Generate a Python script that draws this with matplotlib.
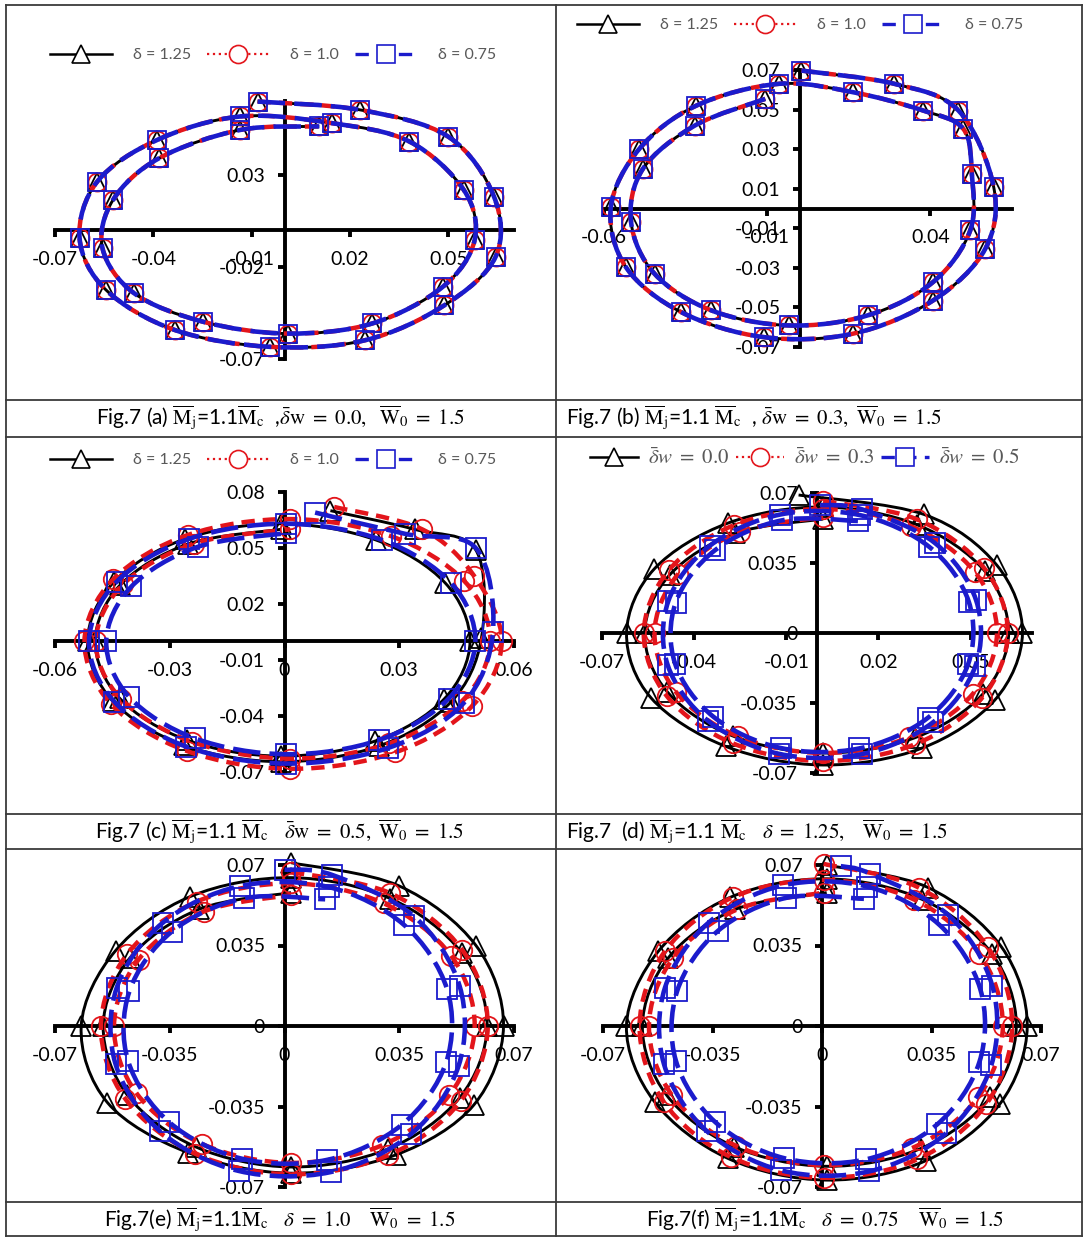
"""Fig.7 phase-plane orbits, six panels in a captioned table grid."""

import matplotlib

matplotlib.use("Agg")
import matplotlib.pyplot as plt  # noqa: E402
import numpy as np  # noqa: E402
from matplotlib.lines import Line2D  # noqa: E402
from matplotlib.patches import PathPatch  # noqa: E402
from matplotlib.path import Path  # noqa: E402
from matplotlib.ticker import FuncFormatter  # noqa: E402

W, H = 1084, 1237
BLACK, RED, BLUE, GREY, RULE = "#000000", "#e3151b", "#1b1bcc", "#595959", "#3a3a3a"
plt.rcParams.update({
    "font.family": ["Lato", "DejaVu Sans"],
    "mathtext.fontset": "stix",
    "axes.unicode_minus": False,
})

# ---- data (x, dx/dt), one spiral per series -------------------------------
# (a) dw = 0.0 : the three delta curves lie on top of each other
A_X = [-0.0082, 0.0230, 0.0499, 0.0639, 0.0644, 0.0488, 0.0246, -0.0044, -0.0334, -0.0544,
       -0.0625, -0.0571, -0.0388, -0.0135, 0.0144, 0.0381, 0.0547, 0.0580, 0.0483, 0.0268,
       0.0010, -0.0248, -0.0458, -0.0555, -0.0523, -0.0383, -0.0135, 0.0106]
A_Y = [0.0697, 0.0652, 0.0507, 0.0181, -0.0145, -0.0408, -0.0598, -0.0634, -0.0543, -0.0326,
       -0.0045, 0.0263, 0.0489, 0.0616, 0.0580, 0.0480, 0.0217, -0.0054, -0.0308, -0.0507,
       -0.0562, -0.0498, -0.0344, -0.0100, 0.0163, 0.0389, 0.0543, 0.0562]
# (b) dw = 0.3 : same again
B_X = [0.0005, 0.0290, 0.0486, 0.0594, 0.0568, 0.0408, 0.0162, -0.0111, -0.0363, -0.0533,
       -0.0579, -0.0492, -0.0317, -0.0065, 0.0162, 0.0378, 0.0501, 0.0527, 0.0522, 0.0408,
       0.0208, -0.0034, -0.0271, -0.0445, -0.0517, -0.0481, -0.0322, -0.0106]
B_Y = [0.0697, 0.0630, 0.0495, 0.0108, -0.0204, -0.0465, -0.0633, -0.0650, -0.0524, -0.0296,
       0.0007, 0.0301, 0.0520, 0.0630, 0.0588, 0.0495, 0.0402, 0.0175, -0.0111, -0.0372,
       -0.0540, -0.0591, -0.0515, -0.0330, -0.0069, 0.0200, 0.0419, 0.0554]
# (c) dw = 0.5 : delta = 1.25 / 1.0 / 0.75
C_X_125 = [0.012, 0.034, 0.050, 0.0515, 0.0435, 0.0246, -0.001, -0.0264, -0.0449, -0.0515,
           -0.0446, -0.0261, -0.001, 0.0239, 0.0420, 0.0485, 0.0417, 0.0236, -0.001, -0.0254,
           -0.0431, -0.0495, -0.0429, -0.0251, -0.001]
C_Y_125 = [0.070, 0.060, 0.049, 0.002, -0.0325, -0.0561, -0.0645, -0.0556, -0.032, 0.0,
           0.0318, 0.0548, 0.063, 0.0543, 0.0313, 0.0, -0.031, -0.0535, -0.0615, -0.053,
           -0.0305, 0.0, 0.0303, 0.0522, 0.060]
C_X_100 = [0.013, 0.036, 0.0496, 0.0568, 0.0491, 0.0289, 0.0015, -0.0256, -0.0453, -0.0523,
           -0.0448, -0.0251, 0.0015, 0.0279, 0.0470, 0.0538, 0.0465, 0.0274, 0.0015, -0.0241,
           -0.0427, -0.0493, -0.0422, -0.0236, 0.0015]
C_Y_100 = [0.072, 0.060, 0.0350, 0.0, -0.0346, -0.0595, -0.0683, -0.0587, -0.0337, 0.0,
           0.0332, 0.0571, 0.0655, 0.0563, 0.0323, 0.0, -0.0318, -0.0547, -0.0628, -0.0539,
           -0.0309, 0.0, 0.0305, 0.0524, 0.060]
C_X_075 = [0.008, 0.0315, 0.050, 0.0545, 0.0468, 0.0271, 0.0005, -0.0257, -0.0445, -0.0511,
           -0.0439, -0.0249, 0.0005, 0.0256, 0.0436, 0.0499, 0.0429, 0.0248, 0.0005, -0.0234,
           -0.0406, -0.0466, -0.0400, -0.0227, 0.0005]
C_Y_075 = [0.069, 0.0576, 0.050, 0.005, -0.0332, -0.0571, -0.0655, -0.0564, -0.0323, 0.0,
           0.0319, 0.0549, 0.063, 0.0542, 0.0311, 0.0, -0.0307, -0.0528, -0.0605, -0.0520,
           -0.0298, 0.0, 0.0294, 0.0506, 0.058]
# (d) delta = 1.25 : dw = 0.0 / 0.3 / 0.5
D_X_00 = [-0.006, 0.0348, 0.0585, 0.0669, 0.0579, 0.0341, 0.002, -0.0297, -0.054, -0.062,
          -0.053, -0.0289, 0.002, 0.0326, 0.0546, 0.0624, 0.0540, 0.0318, 0.002, -0.0274,
          -0.0487, -0.0561, -0.0480, -0.0267, 0.002]
D_Y_00 = [0.069, 0.0593, 0.034, 0.0, -0.0335, -0.0576, -0.066, -0.0567, -0.0325, 0.0,
          0.032, 0.055, 0.063, 0.0541, 0.031, 0.0, -0.0305, -0.0524, -0.060, -0.0515,
          -0.0295, 0.0, 0.029, 0.0498, 0.057]
D_X_03 = [0.002, 0.0324, 0.0543, 0.0621, 0.0538, 0.0318, 0.002, -0.0275, -0.0488, -0.0564,
          -0.0483, -0.0269, 0.002, 0.0306, 0.0513, 0.0586, 0.0508, 0.0300, 0.002, -0.0257,
          -0.0458, -0.0529, -0.0453, -0.0252, 0.002]
D_Y_03 = [0.066, 0.0569, 0.0327, 0.0, -0.0323, -0.0557, -0.064, -0.0551, -0.0317, 0.0,
          0.0313, 0.054, 0.062, 0.0534, 0.0307, 0.0, -0.0303, -0.0522, -0.060, -0.0517,
          -0.0297, 0.0, 0.0293, 0.0505, 0.058]
D_X_05 = [0.001, 0.0147, 0.0383, 0.0518, 0.0516, 0.0379, 0.0145, -0.0124, -0.0354, -0.0486,
          -0.0484, -0.035, -0.0121, 0.0141, 0.0366, 0.0494, 0.0492, 0.0361, 0.0138, -0.0118,
          -0.0337, -0.0462, -0.046, -0.0332, -0.0115, 0.0134]
D_Y_05 = [0.064, 0.0618, 0.0451, 0.0164, -0.0164, -0.0445, -0.0606, -0.0604, -0.044, -0.0161,
          0.016, 0.0435, 0.0592, 0.0589, 0.043, 0.0157, -0.0156, -0.0424, -0.0577, -0.0575,
          -0.0419, -0.0153, 0.0152, 0.0414, 0.0563, 0.056]
# (e) delta = 1.0 : dw = 0.0 / 0.3 / 0.5
E_X_00 = [0.002, 0.0348, 0.0584, 0.0668, 0.0577, 0.0340, 0.002, -0.0295, -0.054, -0.062,
          -0.0515, -0.0287, 0.002, 0.0323, 0.0541, 0.0618, 0.0534, 0.0315, 0.002, -0.0270,
          -0.0479, -0.0553, -0.0472, -0.0262, 0.002]
E_Y_00 = [0.071, 0.0610, 0.035, 0.0, -0.0344, -0.056, -0.064, -0.055, -0.0333, 0.0,
          0.0328, 0.0563, 0.0645, 0.0554, 0.0317, 0.0, -0.0312, -0.0535, -0.0613, -0.0526,
          -0.0301, 0.0, 0.0295, 0.0507, 0.058]
E_X_03 = [0.002, 0.0323, 0.0542, 0.062, 0.0537, 0.0317, 0.002, -0.0273, -0.0485, -0.056,
          -0.0479, -0.0267, 0.002, 0.0303, 0.0508, 0.058, 0.0502, 0.0297, 0.002, -0.0253,
          -0.0451, -0.052, -0.0445, -0.0247, 0.002]
E_Y_03 = [0.067, 0.0577, 0.0331, 0.0, -0.0327, -0.0562, -0.0645, -0.0555, -0.0318, 0.0,
          0.0314, 0.0541, 0.062, 0.0533, 0.0306, 0.0, -0.0302, -0.0519, -0.0595, -0.0512,
          -0.0293, 0.0, 0.0289, 0.0497, 0.057]
E_X_05 = [0.0, 0.0145, 0.0394, 0.0534, 0.0531, 0.0387, 0.0141, -0.014, -0.0379, -0.0515,
          -0.0512, -0.0372, -0.0136, 0.0135, 0.0365, 0.0496, 0.0493, 0.0358, 0.013, -0.013,
          -0.0351, -0.0477, -0.0473, -0.0344, -0.0125, 0.0124]
E_Y_05 = [0.068, 0.0657, 0.0478, 0.0174, -0.0173, -0.0468, -0.0635, -0.063, -0.0458, -0.0167,
          0.0165, 0.0448, 0.0608, 0.0604, 0.0439, 0.0159, -0.0158, -0.0429, -0.0582, -0.0577,
          -0.0419, -0.0152, 0.0151, 0.041, 0.0555, 0.0551]
# (f) delta = 0.75 : dw = 0.0 / 0.3 / 0.5
F_X_00 = [0.0015, 0.0339, 0.0573, 0.0656, 0.0568, 0.0333, 0.0015, -0.030, -0.0535, -0.0625,
          -0.0523, -0.0294, 0.0015, 0.0321, 0.0543, 0.0621, 0.0538, 0.0315, 0.0015, -0.0282,
          -0.0497, -0.0574, -0.0492, -0.0277, 0.0015]
F_Y_00 = [0.070, 0.0602, 0.0345, 0.0, -0.034, -0.0585, -0.067, -0.0576, -0.033, 0.0,
          0.0325, 0.0559, 0.064, 0.055, 0.0315, 0.0, -0.031, -0.0533, -0.061, -0.0524,
          -0.030, 0.0, 0.0295, 0.0507, 0.058]
F_X_03 = [0.0005, 0.0309, 0.0529, 0.0608, 0.0525, 0.0304, 0.0005, -0.0291, -0.0506, -0.0583,
          -0.0502, -0.0286, 0.0005, 0.0294, 0.0503, 0.0578, 0.0499, 0.0289, 0.0005, -0.0276,
          -0.048, -0.0553, -0.0476, -0.0271, 0.0005]
F_Y_03 = [0.0705, 0.0602, 0.0345, 0.0, -0.034, -0.058, -0.066, -0.057, -0.033, 0.0,
          0.0325, 0.0559, 0.0635, 0.055, 0.0315, 0.0, -0.031, -0.053, -0.0605, -0.052,
          -0.030, 0.0, 0.0295, 0.0507, 0.058]
F_X_05 = [0.006, 0.0155, 0.0404, 0.0544, 0.0541, 0.0397, 0.0151, -0.013, -0.0369, -0.0505,
          -0.0502, -0.0362, -0.0126, 0.0145, 0.0375, 0.0506, 0.0503, 0.0368, 0.014, -0.012,
          -0.0341, -0.0467, -0.0463, -0.0334, -0.0115, 0.0134]
F_Y_05 = [0.0695, 0.0662, 0.0482, 0.0176, -0.0171, -0.0466, -0.0632, -0.0628, -0.0456, -0.0166,
          0.0166, 0.045, 0.0611, 0.0606, 0.044, 0.016, -0.0157, -0.0428, -0.058, -0.0575,
          -0.0418, -0.0151, 0.0152, 0.0412, 0.0557, 0.0553]

XT_A = [-0.07, -0.04, -0.01, 0.02, 0.05]
YT_A = [-0.07, -0.02, 0.03]
XT_B = [-0.06, -0.01, 0.04]
YT_B = [-0.07, -0.05, -0.03, -0.01, 0.01, 0.03, 0.05, 0.07]
XT_C = [-0.06, -0.03, 0, 0.03, 0.06]
YT_C = [-0.07, -0.04, -0.01, 0.02, 0.05, 0.08]
XT_D = [-0.07, -0.04, -0.01, 0.02, 0.05]
XT_EF = [-0.07, -0.035, 0, 0.035, 0.07]
YT_DEF = [-0.07, -0.035, 0, 0.035, 0.07]

LEG_DELTA = ["δ = 1.25", "δ = 1.0", "δ = 0.75"]
LEG_DW = [r"$\bar{\delta}w\ =\ 0.0$", r"$\bar{\delta}w\ =\ 0.3$", r"$\bar{\delta}w\ =\ 0.5$"]

MJ = r"$\overline{\mathrm{M}}_\mathrm{j}$"
MC = r"$\overline{\mathrm{M}}_\mathrm{c}$"
W0 = r"\overline{\mathrm{W}}_0\ =\ 1.5"
CAPTIONS = [
    "Fig.7 (a) " + MJ + "=1.1" + MC + "  ," + r"$\bar{\delta}\mathrm{w}\ =\ 0.0,\ \ " + W0 + "$",
    "Fig.7 (b) " + MJ + "=1.1 " + MC + "  , " + r"$\bar{\delta}\mathrm{w}\ =\ 0.3,\ " + W0 + "$",
    "Fig.7 (c) " + MJ + "=1.1 " + MC + "   " + r"$\bar{\delta}\mathrm{w}\ =\ 0.5,\ " + W0 + "$",
    "Fig.7  (d) " + MJ + "=1.1 " + MC + "   " + r"$\delta\ =\ 1.25,\ \ \ " + W0 + "$",
    "Fig.7(e) " + MJ + "=1.1" + MC + "   " + r"$\delta\ =\ 1.0\ \ \ \ " + W0 + "$",
    "Fig.7(f) " + MJ + "=1.1" + MC + "   " + r"$\delta\ =\ 0.75\ \ \ \ " + W0 + "$",
]

STYLES = {
    "tri": dict(color=BLACK, lw=2.1, ls="-", marker="^", z=3),
    "circ": dict(color=RED, lw=3.2, ls=(0, (3, 1.8)), marker="o", z=4),
    "sq": dict(color=BLUE, lw=3.3, ls=(0, (6, 2)), marker="s", z=5),
}

# layout in reference pixels: axis extents (x-left, x-right, y-top, y-bottom)
PANELS = [
    dict(series=[(A_X, A_Y, "tri"), (A_X, A_Y, "circ"), (A_X, A_Y, "sq")],
         box=(55, 514, 101, 359), xlim=(-0.07, 0.07), ylim=(-0.07, 0.07), xt=XT_A, yt=YT_A, ms=13,
         legend=(LEG_DELTA, 273, 55), cap=(280, 418, "center")),
    dict(series=[(B_X, B_Y, "tri"), (B_X, B_Y, "circ"), (B_X, B_Y, "sq")],
         box=(604, 1012, 70, 347), xlim=(-0.06, 0.065), ylim=(-0.07, 0.07), xt=XT_B, yt=YT_B, ms=13,
         legend=(LEG_DELTA, 800, 25), cap=(566, 418, "left")),
    dict(series=[(C_X_125, C_Y_125, "tri"), (C_X_100, C_Y_100, "circ"), (C_X_075, C_Y_075, "sq")],
         box=(55, 514, 492, 772), xlim=(-0.06, 0.06), ylim=(-0.07, 0.08), xt=XT_C, yt=YT_C, ms=14,
         legend=(LEG_DELTA, 273, 460), cap=(280, 832, "center")),
    dict(series=[(D_X_00, D_Y_00, "tri"), (D_X_03, D_Y_03, "circ"), (D_X_05, D_Y_05, "sq")],
         box=(602, 1032, 493, 773), xlim=(-0.07, 0.07), ylim=(-0.07, 0.07), xt=XT_D, yt=YT_DEF, ms=14,
         legend=(LEG_DW, 805, 458), cap=(566, 832, "left")),
    dict(series=[(E_X_00, E_Y_00, "tri"), (E_X_03, E_Y_03, "circ"), (E_X_05, E_Y_05, "sq")],
         box=(55, 514, 865, 1187), xlim=(-0.07, 0.07), ylim=(-0.07, 0.07), xt=XT_EF, yt=YT_DEF, ms=14,
         legend=None, cap=(280, 1220, "center")),
    dict(series=[(F_X_00, F_Y_00, "tri"), (F_X_03, F_Y_03, "circ"), (F_X_05, F_Y_05, "sq")],
         box=(603, 1041, 865, 1187), xlim=(-0.07, 0.07), ylim=(-0.07, 0.07), xt=XT_EF, yt=YT_DEF, ms=14,
         legend=None, cap=(825, 1220, "center")),
]


def fx(px):
    return px / W


def fy(py):
    return 1 - py / H


def smooth_path(xs, ys):
    """Excel-style smoothed line through the points (Catmull-Rom as cubic Beziers)."""
    pts = np.column_stack([xs, ys])
    p = np.vstack([pts[0], pts, pts[-1]])
    verts, codes = [pts[0]], [Path.MOVETO]
    for i in range(1, len(p) - 2):
        verts += [p[i] + (p[i + 1] - p[i - 1]) / 6, p[i + 1] - (p[i + 2] - p[i]) / 6, p[i + 1]]
        codes += [Path.CURVE4] * 3
    return Path(verts, codes)


def legend_handles():
    return [
        Line2D([], [], color=BLACK, lw=1.8, marker="^", ms=13, mfc="white", mec=BLACK, mew=1.2),
        Line2D([], [], color=RED, lw=1.6, ls=":", marker="o", ms=13, mfc="white", mec=RED, mew=1.2),
        Line2D([], [], color=BLUE, lw=2.4, ls=(0, (4, 2.5)), marker="s", ms=13, mfc="white", mec=BLUE, mew=1.2),
    ]


def main() -> None:
    fig = plt.figure(figsize=(W / 100, H / 100), dpi=100)
    fmt = FuncFormatter(lambda v, _: f"{v:g}")

    for panel, cap in zip(PANELS, CAPTIONS):
        x0, x1, yt, yb = panel["box"]
        ax = fig.add_axes([fx(x0), fy(yb), (x1 - x0) / W, (yb - yt) / H])
        ax.patch.set_visible(False)
        for xs, ys, key in panel["series"]:
            st = STYLES[key]
            ax.add_patch(PathPatch(smooth_path(xs, ys), fill=False, edgecolor=st["color"], lw=st["lw"],
                                   linestyle=st["ls"], capstyle="butt", zorder=st["z"], clip_on=False))
            ax.plot(xs, ys, ls="none", marker=st["marker"], ms=panel["ms"], mfc="none",
                    mec=st["color"], mew=1.3, zorder=st["z"], clip_on=False)
        ax.set_xlim(*panel["xlim"])
        ax.set_ylim(*panel["ylim"])
        ax.spines[["top", "right"]].set_visible(False)
        ax.spines["left"].set_position(("data", 0))
        ax.spines["bottom"].set_position(("data", 0))
        for s in ("left", "bottom"):
            ax.spines[s].set_linewidth(2.8)
        ax.set_xticks(panel["xt"])
        ax.set_yticks(panel["yt"])
        ax.xaxis.set_major_formatter(fmt)
        ax.yaxis.set_major_formatter(fmt)
        ax.tick_params(axis="both", direction="out", length=5, width=2.8, labelsize=14, colors=BLACK)
        ax.tick_params(axis="x", pad=10)
        ax.tick_params(axis="y", pad=9)

        if panel["legend"] is not None:
            labels, lx, ly = panel["legend"]
            math = labels is LEG_DW
            ax.legend(legend_handles(), labels, loc="center", bbox_to_anchor=(fx(lx), fy(ly)),
                      bbox_transform=fig.transFigure, ncol=3, frameon=False, labelcolor=GREY,
                      fontsize=15 if math else 11.5, handlelength=2.3 if math else 3.9,
                      handletextpad=0.5 if math else 1.3, columnspacing=0.3 if math else 1.0,
                      borderpad=0, borderaxespad=0)

        cx, cy, ha = panel["cap"]
        fig.text(fx(cx), fy(cy), cap, ha=ha, va="center", fontsize=15, color=BLACK)

    # table rules around the panels and their captions
    for y in (5, 400, 437, 814, 849, 1202, 1236):
        fig.add_artist(Line2D([fx(6), fx(1082)], [fy(y), fy(y)], transform=fig.transFigure, color=RULE, lw=1.3))
    for x in (6, 556, 1082):
        fig.add_artist(Line2D([fx(x), fx(x)], [fy(5), fy(1236)], transform=fig.transFigure, color=RULE, lw=1.3))

    fig.savefig("out.png", dpi=100)
    plt.close(fig)


if __name__ == "__main__":
    main()
